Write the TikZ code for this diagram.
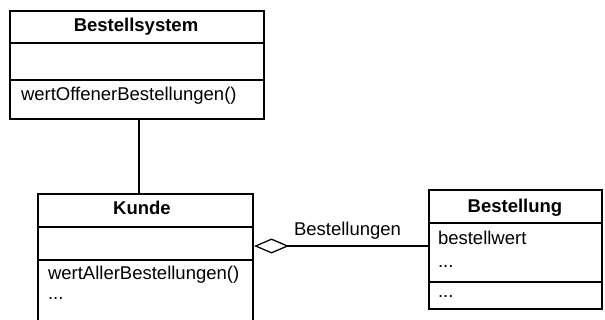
\documentclass[tikz,border=0pt]{standalone}
\usepackage{fontspec}
\setmainfont{Liberation Sans}
\usepackage{tikz}
\usetikzlibrary{arrows.meta}

\begin{document}
\begin{tikzpicture}[x=1pt,y=-1pt,line width=2pt,
  font=\fontsize{18.5}{22}\selectfont,
  classbox/.style={draw,anchor=north west,inner sep=0pt},
  classname/.style={font=\fontsize{18.5}{22}\selectfont\bfseries,anchor=base,inner sep=0pt},
  member/.style={anchor=base west,inner sep=0pt},
  aggr/.style={{Diamond[open,length=35pt,width=15pt,line width=1.3pt]}-}]
\useasboundingbox (0,0) rectangle (605,320);
% classes
\node [classbox,minimum width=254pt,minimum height=108pt] (sys) at (9,10) {};
\node [classbox,minimum width=215pt,minimum height=140pt] (kunde) at (37,193) {};
\node [classbox,minimum width=173pt,minimum height=119pt] (bst) at (428,189) {};
\draw (sys.west |- 0,43) -- (sys.east |- 0,43);
\draw (sys.west |- 0,80) -- (sys.east |- 0,80);
\draw (kunde.west |- 0,227) -- (kunde.east |- 0,227);
\draw (kunde.west |- 0,260) -- (kunde.east |- 0,260);
\draw (bst.west |- 0,223) -- (bst.east |- 0,223);
\draw (bst.west |- 0,282) -- (bst.east |- 0,282);
% texts
\node [classname] (sysname) at (136,32) {Bestellsystem};
\node [member] (sysop) at (20,101) {wertOffenerBestellungen()};
\node [classname] (kname) at (142,215) {Kunde};
\node [member] (kop) at (47,280) {wertAllerBestellungen()};
\node [member] (kmore) at (47,300) {...};
\node [classname] (bname) at (515,213) {Bestellung};
\node [member] (battr) at (437,245) {bestellwert};
\node [member] (bmore) at (437,268) {...};
\node [member] (bop) at (437,298) {...};
% connectors
\draw ([xshift=2pt]sys.south) -- ([xshift=2pt]sys.south |- kunde.north);
\coordinate (agg) at (kunde.east |- 0,246);
\draw [aggr] (agg) -- (agg -| bst.west);
\node [member] (rolle) at (293,236) {Bestellungen};
\end{tikzpicture}
\end{document}
